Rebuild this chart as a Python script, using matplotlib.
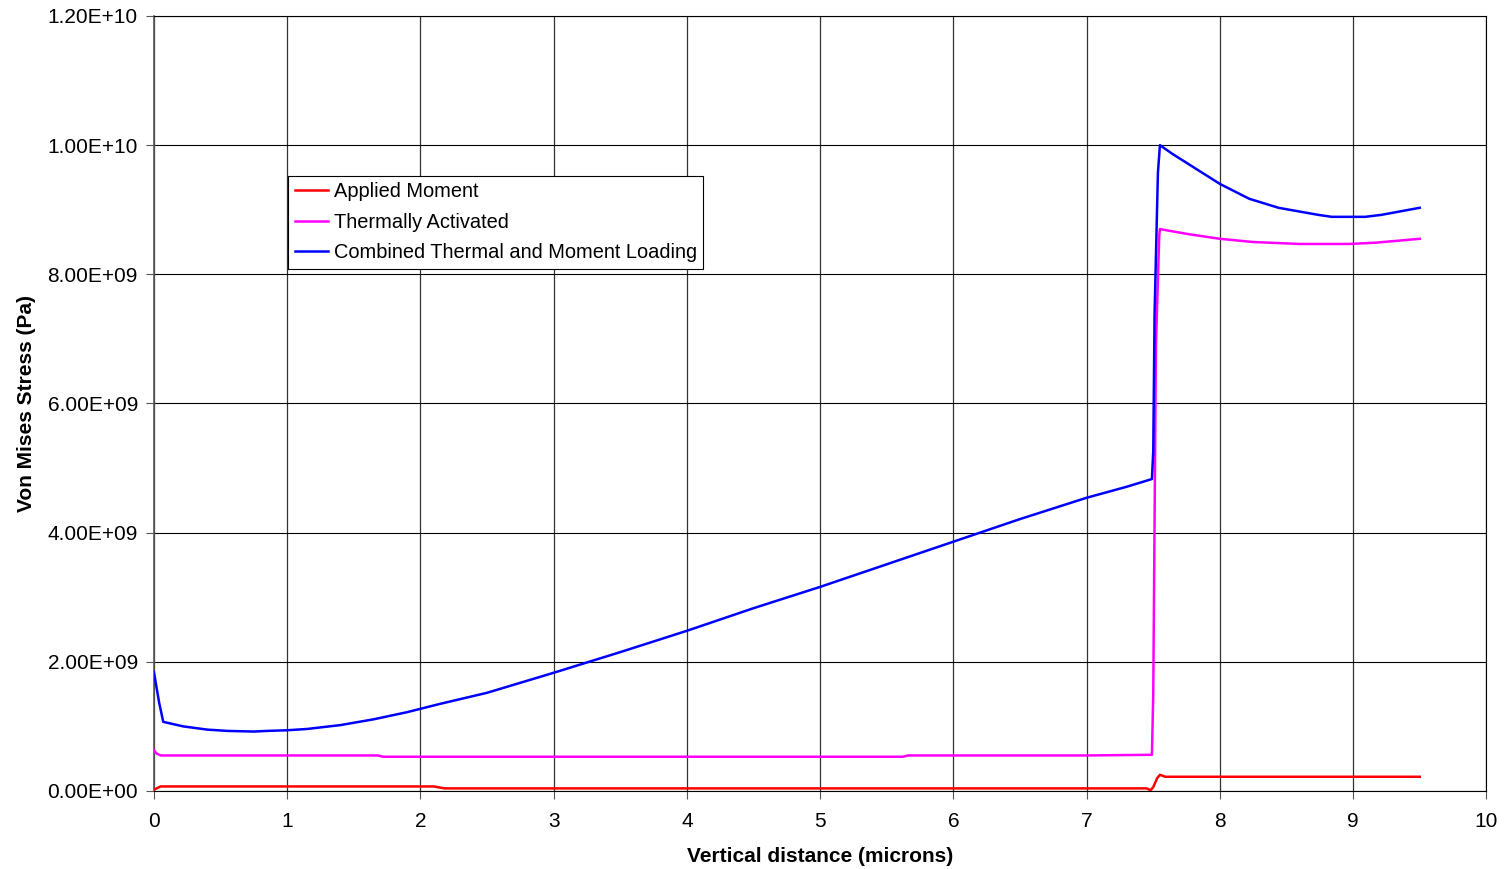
import matplotlib
matplotlib.use("Agg")
import matplotlib.pyplot as plt
from matplotlib.ticker import FuncFormatter

plt.rcParams["font.family"] = ["Liberation Sans", "DejaVu Sans"]

# Applied Moment
x_moment = [0.0, 0.05, 1.0, 2.1, 2.18, 4.0, 6.0, 7.45, 7.48, 7.5, 7.53, 7.55, 7.59, 8.5, 9.5]
y_moment = [0.02e9, 0.07e9, 0.07e9, 0.07e9, 0.04e9, 0.04e9, 0.04e9, 0.04e9, 0.01e9,
            0.06e9, 0.2e9, 0.25e9, 0.22e9, 0.22e9, 0.22e9]

# Thermally Activated
x_thermal = [0.0, 0.02, 0.05, 1.0, 1.68, 1.72, 3.0, 5.62, 5.66, 7.0, 7.49, 7.5, 7.51, 7.52,
             7.545, 7.55, 7.77, 8.0, 8.25, 8.6, 8.97, 9.17, 9.5]
y_thermal = [0.63e9, 0.58e9, 0.55e9, 0.55e9, 0.55e9, 0.53e9, 0.53e9, 0.53e9, 0.55e9, 0.55e9,
             0.56e9, 1.5e9, 4.2e9, 6.9e9, 8.6e9, 8.7e9, 8.62e9, 8.55e9, 8.5e9, 8.47e9,
             8.47e9, 8.49e9, 8.55e9]

# Combined Thermal and Moment Loading
x_combined = [0.0, 0.04, 0.07, 0.22, 0.4, 0.55, 0.75, 0.85, 1.0, 1.15, 1.4, 1.65, 1.9,
              2.15, 2.5, 3.0, 3.5, 4.0, 4.5, 5.0, 5.5, 6.0, 6.5, 7.0, 7.3, 7.49, 7.5,
              7.51, 7.535, 7.55, 7.64, 7.77, 8.0, 8.22, 8.44, 8.74, 8.84, 9.09, 9.21, 9.5]
y_combined = [1.84e9, 1.36e9, 1.07e9, 1.0e9, 0.95e9, 0.93e9, 0.92e9, 0.93e9, 0.94e9, 0.96e9,
              1.02e9, 1.11e9, 1.22e9, 1.35e9, 1.52e9, 1.83e9, 2.15e9, 2.48e9, 2.83e9,
              3.16e9, 3.51e9, 3.86e9, 4.21e9, 4.54e9, 4.71e9, 4.83e9, 5.26e9, 7.4e9,
              9.57e9, 10.0e9, 9.87e9, 9.7e9, 9.4e9, 9.17e9, 9.03e9, 8.92e9, 8.89e9,
              8.89e9, 8.92e9, 9.03e9]

fig = plt.figure(figsize=(15.09, 8.69), dpi=100)
ax = fig.add_axes([0.102, 0.0898, 0.883, 0.8918])

ax.plot(x_moment, y_moment, color="#ff0000", lw=1.8, label="Applied Moment", zorder=3)
ax.plot(x_thermal, y_thermal, color="#ff00ff", lw=1.8, label="Thermally Activated", zorder=3)
ax.plot(x_combined, y_combined, color="#0000ff", lw=1.8,
        label="Combined Thermal and Moment Loading", zorder=4)

ax.set_xlim(0, 10)
ax.set_ylim(0, 1.2e10)
ax.set_xticks(range(0, 11))
ax.set_yticks([i * 2e9 for i in range(7)])
ax.yaxis.set_major_formatter(FuncFormatter(lambda v, p: f"{v:.2E}"))
ax.grid(True, axis="y", color="black", lw=0.8)
ax.grid(True, axis="x", color="#333333", lw=0.9)
ax.set_axisbelow(True)
ax.tick_params(direction="out", length=6, labelsize=15, color="#555555")
ax.tick_params(axis="x", pad=9)
ax.tick_params(axis="y", pad=5.5)
for spine in ax.spines.values():
    spine.set_color("black")
    spine.set_linewidth(0.8)
ax.spines["left"].set_color("#555555")
ax.spines["left"].set_linewidth(1.2)

ax.set_xlabel("Vertical distance (microns)", fontsize=15, fontweight="bold", labelpad=12)
ax.set_ylabel("Von Mises Stress (Pa)", fontsize=15, fontweight="bold", labelpad=8.5)

leg = ax.legend(loc="upper left", bbox_to_anchor=(0.101, 0.794), fontsize=14.4,
                frameon=True, fancybox=False, edgecolor="black", framealpha=1,
                handlelength=1.65, handletextpad=0.3, borderpad=0.32, labelspacing=0.58,
                borderaxespad=0)
leg.get_frame().set_linewidth(0.8)

fig.savefig("out.png", dpi=100, facecolor="white")
